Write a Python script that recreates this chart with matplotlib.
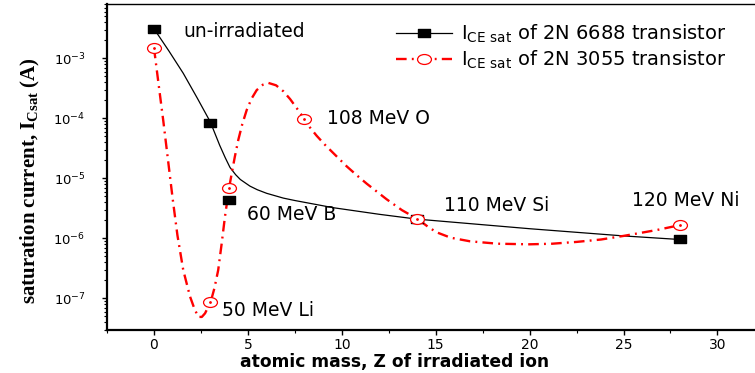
import numpy as np
import matplotlib
matplotlib.use("Agg")
import matplotlib.pyplot as plt
from matplotlib.path import Path
from matplotlib.lines import Line2D
from matplotlib.ticker import LogLocator, FuncFormatter, MultipleLocator

# ---------------- data ----------------
z_6688 = [0, 3, 4, 14, 28]
i_6688 = [3.1e-3, 8.4e-5, 4.35e-6, 2.1e-6, 9.6e-7]

z_3055 = [0, 3, 4, 8, 14, 28]
i_3055 = [1.5e-3, 8.6e-8, 6.8e-6, 9.8e-5, 2.1e-6, 1.66e-6]

# smooth fitted curves as drawn in the reference (x, log10 current)
fit_6688_z = [0, 0.8, 1.56, 2.3, 3.0, 3.5, 3.8, 4.05, 4.35, 4.6, 5.11, 5.5,
              6.0, 6.89, 7.5, 9.55, 12.0, 14.0, 17.0, 20.0, 25.0, 28.0]
fit_6688_log = [-2.507, -2.88, -3.25, -3.66, -4.06, -4.45, -4.66, -4.82,
                -4.94, -5.02, -5.13, -5.19, -5.25, -5.33, -5.37, -5.49, -5.60,
                -5.68, -5.76, -5.84, -5.96, -6.02]

fit_3055_z = [0, 0.25, 0.5, 0.75, 1.0, 1.25, 1.56, 1.92, 2.15, 2.36, 2.55,
              2.72, 3.02, 3.22, 3.42, 3.6, 3.78, 4.0, 4.14, 4.3, 4.49, 4.7,
              4.94, 5.2, 5.47, 5.8, 6.09, 6.5, 6.89, 7.25, 7.6, 8.0, 8.3,
              8.66, 9.1, 9.55, 10.26, 10.8, 11.33, 11.9, 12.39, 13.2, 14.04,
              14.6, 15.05, 15.8, 16.83, 18.3, 20.0, 21.2, 22.5, 23.8, 25.0,
              26.8, 28.0]
fit_3055_log = [-2.823, -3.44, -4.05, -4.70, -5.35, -5.95, -6.53, -6.97,
                -7.17, -7.31, -7.31, -7.25, -7.06, -6.83, -6.53, -6.10, -5.64,
                -5.16, -4.92, -4.65, -4.36, -4.10, -3.86, -3.67, -3.53, -3.44,
                -3.41, -3.45, -3.55, -3.68, -3.83, -4.006, -4.15, -4.29,
                -4.44, -4.58, -4.80, -4.95, -5.09, -5.23, -5.35, -5.53,
                -5.68, -5.81, -5.90, -5.99, -6.05, -6.09, -6.10, -6.09,
                -6.06, -6.02, -5.96, -5.86, -5.78]

labels_txt = ["un-irradiated", "108 MeV O", "60 MeV B", "50 MeV Li",
              "110 MeV Si", "120 MeV Ni"]
labels_z = [1.55, 9.2, 4.95, 3.6, 15.45, 25.45]
labels_i = [2.75e-3, 1.0e-4, 2.45e-6, 6.2e-8, 3.5e-6, 4.3e-6]

legend_labels = [r"I$\mathregular{_{CE\ sat}}$ of 2N 6688 transistor",
                 r"I$\mathregular{_{CE\ sat}}$ of 2N 3055 transistor"]

# ---------------- styling ----------------
plt.rcParams["font.family"] = ["DejaVu Sans"]
plt.rcParams["mathtext.default"] = "regular"

# wide (stretched) marker shapes as in the reference
sq_marker = Path([(-0.78, -0.5), (0.78, -0.5), (0.78, 0.5), (-0.78, 0.5),
                  (-0.78, -0.5)],
                 [Path.MOVETO, Path.LINETO, Path.LINETO, Path.LINETO,
                  Path.CLOSEPOLY])
uc = Path.unit_circle()
ell_marker = Path(uc.vertices * np.array([1.4, 1.0]), uc.codes)

red_ls = (0, (4.5, 2.2, 0.8, 2.2))

fig = plt.figure(figsize=(7.55, 3.73), dpi=100)
ax = fig.add_axes([107 / 755, 1 - 330 / 373, 1 - 107 / 755, (330 - 4) / 373])

ax.set_yscale("log")
ax.set_xlim(-2.5, 32.0)
ax.set_ylim(10 ** -7.528, 10 ** -2.095)

# fitted curves
ax.plot(fit_6688_z, 10 ** np.array(fit_6688_log), color="black", lw=0.9,
        zorder=2, solid_joinstyle="round")
ax.plot(fit_3055_z, 10 ** np.array(fit_3055_log), color="red", lw=1.7,
        ls=red_ls, zorder=2)

# data markers
ax.plot(z_6688, i_6688, ls="none", marker=sq_marker, ms=8.3, color="black",
        mec="black", zorder=3)
ax.plot(z_3055, i_3055, ls="none", marker=ell_marker, ms=10, mfc="white",
        mec="red", mew=0.9, zorder=4)
ax.plot(z_3055, i_3055, ls="none", marker="o", ms=1.0, color="red", zorder=5)

for t, x, y in zip(labels_txt, labels_z, labels_i):
    ax.text(x, y, t, fontsize=13.5, va="center", ha="left", color="black",
            zorder=6, clip_on=False)

# axes cosmetics
ax.spines["right"].set_visible(False)
ax.spines["top"].set_linewidth(1.0)
ax.spines["left"].set_linewidth(1.6)
ax.spines["bottom"].set_linewidth(1.6)

ax.xaxis.set_major_locator(MultipleLocator(5))
ax.xaxis.set_minor_locator(MultipleLocator(2.5))
ax.yaxis.set_major_locator(LogLocator(base=10, numticks=20))
ax.yaxis.set_minor_locator(LogLocator(base=10, subs=np.arange(2, 10),
                                      numticks=20))
ax.yaxis.set_minor_formatter(FuncFormatter(lambda v, p: ""))
ax.yaxis.set_major_formatter(
    FuncFormatter(lambda v, p: r"$\mathregular{10^{%d}}$" % round(np.log10(v))))

ax.tick_params(axis="both", which="major", direction="out", length=3.5,
               width=1.0, top=False, right=False)
ax.tick_params(axis="both", which="minor", direction="out", length=2,
               width=0.8, top=False, right=False)
ax.tick_params(axis="x", which="major", labelsize=10, pad=2.5)
ax.tick_params(axis="y", which="major", labelsize=9.5, pad=12)

ax.set_xlabel("atomic mass, Z of irradiated ion", fontsize=12.3,
              fontweight="bold")
ax.xaxis.set_label_coords(0.443, -0.07)
ax.set_ylabel(r"saturation current, I$\mathregular{_{Csat}}$ (A)",
              fontsize=15, family=["Liberation Serif"], fontweight="bold")
ax.yaxis.set_label_coords(-0.10, 0.46)

h1 = Line2D([], [], color="black", lw=0.9, marker=sq_marker, ms=8.3)
h2 = Line2D([], [], color="red", lw=1.7, ls=red_ls, marker=ell_marker, ms=10,
            mfc="white", mec="red", mew=0.9)
leg = ax.legend([h1, h2], legend_labels, loc="upper left",
                bbox_to_anchor=(396 / 755, 1 - 23 / 373),
                bbox_transform=fig.transFigure, frameon=False, fontsize=14,
                handlelength=2.9, handletextpad=0.45, labelspacing=0.2,
                borderpad=0, borderaxespad=0)

fig.savefig("out.png", dpi=100)
